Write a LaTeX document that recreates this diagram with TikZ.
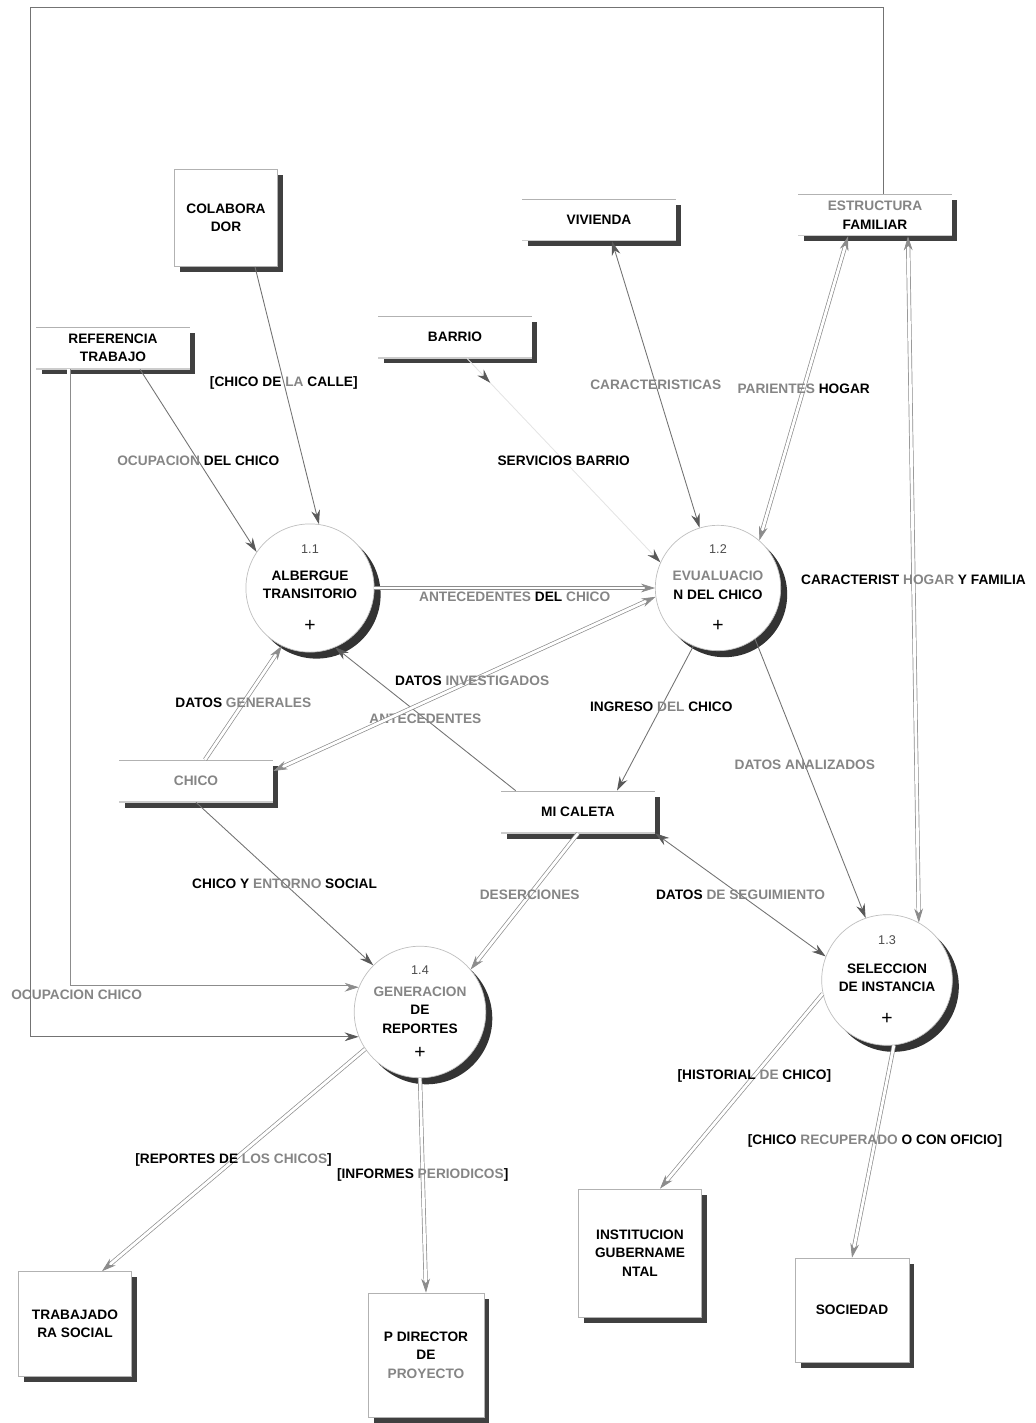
\documentclass[tikz,border=0pt]{standalone}
\usepackage{fontspec}
\setmainfont{Liberation Sans}
\usepackage{tikz}
\usetikzlibrary{arrows.meta,shadows,decorations.markings}
\definecolor{txtgray}{gray}{0.52}
\newcommand{\gw}[1]{\textcolor{txtgray}{#1}}
\newcommand{\procnum}[1]{{\mdseries\fontsize{7.2}{8}\selectfont\color{black!70}#1}}
\newcommand{\procplus}{{\mdseries\fontsize{11}{11}\selectfont +}}

\begin{document}
\begin{tikzpicture}[x=0.02cm,y=-0.02cm,
    font=\fontsize{7.8}{10.5}\selectfont\bfseries,
    box/.style={draw=black!30,fill=white,align=center,line width=0.4pt,inner sep=1pt,
      drop shadow={shadow xshift=0.11cm,shadow yshift=-0.11cm,fill=black!75,opacity=1}},
    store/.style={fill=white,align=center,minimum width=3.08cm,minimum height=0.84cm,inner sep=1pt,
      drop shadow={shadow xshift=0.11cm,shadow yshift=-0.11cm,fill=black!75,opacity=1},
      path picture={
        \draw[black!30,line width=0.8pt] (path picture bounding box.north west) -- (path picture bounding box.north east);
        \draw[black!20,line width=0.8pt] (path picture bounding box.south west) -- (path picture bounding box.south east);}},
    proc/.style={circle,draw=black!25,fill=white,minimum size=2.28cm,inner sep=0pt,align=center,
      drop shadow={shadow xshift=0.13cm,shadow yshift=-0.13cm,fill=black!80,opacity=1}},
    lbl/.style={inner sep=1pt},
    flow/.style={draw=black!55,line width=0.5pt,-{Stealth[length=8pt,width=5pt,color=black!65]}},
    bflow/.style={draw=black!55,line width=0.5pt,{Stealth[length=8pt,width=5pt,color=black!65]}-{Stealth[length=8pt,width=5pt,color=black!65]}},
    dflow/.style={draw=black!45,line width=0.4pt,double=white,double distance=1.6pt,-{Stealth[length=8pt,width=5pt]}},
    dbflow/.style={draw=black!45,line width=0.4pt,double=white,double distance=1.6pt,{Stealth[length=8pt,width=5pt]}-{Stealth[length=8pt,width=5pt]}},
    faintflow/.style={draw=black!10,line width=0.5pt,-{Stealth[length=8pt,width=5pt,color=black!65]},
      postaction={decorate},
      decoration={markings,mark=at position 0.12 with {\arrow{Stealth[length=8pt,width=5pt,color=black!65]}}}}
  ]
  \useasboundingbox (0,0) rectangle (1035,1423);

  \node[box,minimum width=2.06cm,minimum height=1.94cm] (colab) at (226,218) {COLABORA\\DOR};
  \node[store] (ref) at (113,348) {REFERENCIA\\TRABAJO};
  \node[store] (barrio) at (455,337) {BARRIO};
  \node[store] (viv) at (599,220) {VIVIENDA};
  \node[store] (est) at (875,215) {\gw{ESTRUCTURA}\\FAMILIAR};
  \node[store] (chico) at (196,781) {\gw{CHICO}};
  \node[store] (caleta) at (578,812) {MI CALETA};

  \node[proc] (p11) at (310,588) {\procnum{1.1}\\[5pt]ALBERGUE\\TRANSITORIO\\[8pt]\procplus};
  \node[proc] (p12) at (718,588) {\procnum{1.2}\\[5pt]\gw{EVUALUACIO}\\N DEL CHICO\\[8pt]\procplus};
  \node[proc] (p13) at (887,980) {\procnum{1.3}\\[6pt]SELECCION\\DE INSTANCIA\\[8pt]\procplus};
  \node[proc] (p14) at (420,1012) {\procnum{1.4}\\[2pt]\gw{GENERACION}\\DE\\REPORTES\\[4pt]\procplus};

  \node[box,minimum width=2.26cm,minimum height=2.1cm] (trab) at (75,1324) {TRABAJADO\\RA SOCIAL};
  \node[box,minimum width=2.32cm,minimum height=2.48cm] (pdir) at (426,1355) {P DIRECTOR\\DE\\\gw{PROYECTO}};
  \node[box,minimum width=2.46cm,minimum height=2.56cm] (inst) at (640,1253) {INSTITUCION\\GUBERNAME\\NTAL};
  \node[box,minimum width=2.28cm,minimum height=2.08cm] (soc) at (852,1310) {SOCIEDAD};

  \coordinate (tl) at (30,7);

  \draw[flow] ([xshift=0.58cm]colab.south) -- node[lbl,pos=0.45] {[CHICO DE \gw{LA} CALLE]} (p11.82);
  \draw[flow] ([xshift=0.54cm]ref.south) -- node[lbl] {\gw{OCUPACION} DEL CHICO} (p11.146);
  \draw[dflow] ([xshift=0.66cm]ref.south west) |- node[lbl,pos=0.5,xshift=0.16cm,yshift=-0.15cm] {\gw{OCUPACION CHICO}} (p14.158);
  \draw[flow] ([xshift=0.16cm]est.north) |- (tl) |- (p14.202);
  \draw[faintflow] ([xshift=0.24cm]barrio.south) -- node[lbl] {SERVICIOS BARRIO} (p12.156);
  \draw[bflow] ([xshift=0.26cm]viv.south) -- node[lbl] {\gw{CARACTERISTICAS}} (p12.107);
  \draw[dbflow] ([xshift=-0.54cm]est.south) -- node[lbl] {\gw{PARIENTES} HOGAR} (p12.49);
  \draw[dbflow] ([xshift=0.66cm]est.south) -- node[lbl] {CARACTERIST \gw{HOGAR} Y FAMILIA} (p13.61);
  \draw[dflow] (p11.east) -- node[lbl,below=1pt] {\gw{ANTECEDENTES} DEL \gw{CHICO}} (p12.west);
  \draw[flow] ([xshift=0.3cm]caleta.north west) -- node[lbl] {\gw{ANTECEDENTES}} (p11.-67);
  \draw[dbflow] ([yshift=0.2cm]chico.east) -- node[lbl,pos=0.52] {DATOS \gw{INVESTIGADOS}} (p12.188);
  \draw[dflow] ([xshift=0.18cm]chico.north) -- node[lbl] {DATOS \gw{GENERALES}} (p11.244);
  \draw[flow] (p12.247) -- node[lbl,pos=0.42] {INGRESO \gw{DEL} CHICO} ([xshift=0.78cm]caleta.north);
  \draw[flow] (p12.306) -- node[lbl,pos=0.45] {\gw{DATOS ANALIZADOS}} (p13.109);
  \draw[bflow] (caleta.south east) -- node[lbl] {DATOS \gw{DE SEGUIMIENTO}} (p13.159);
  \draw[flow] (chico.south) -- node[lbl] {CHICO Y \gw{ENTORNO} SOCIAL} (p14.135);
  \draw[dflow] (caleta.south) -- node[lbl,pos=0.45] {\gw{DESERCIONES}} (p14.40);
  \draw[dflow] (p14.214) -- node[lbl] {[REPORTES DE \gw{LOS CHICOS}]} ([xshift=0.54cm]trab.north);
  \draw[dflow] (p14.south) -- node[lbl,pos=0.45] {[INFORMES \gw{PERIODICOS}]} (pdir.north);
  \draw[dflow] (p13.192) -- node[lbl,pos=0.42] {[HISTORIAL \gw{DE} CHICO]} ([xshift=0.4cm]inst.north);
  \draw[dflow] (p13.-84) -- node[lbl,pos=0.45] {[CHICO \gw{RECUPERADO} O CON OFICIO]} (soc.north);
\end{tikzpicture}
\end{document}
